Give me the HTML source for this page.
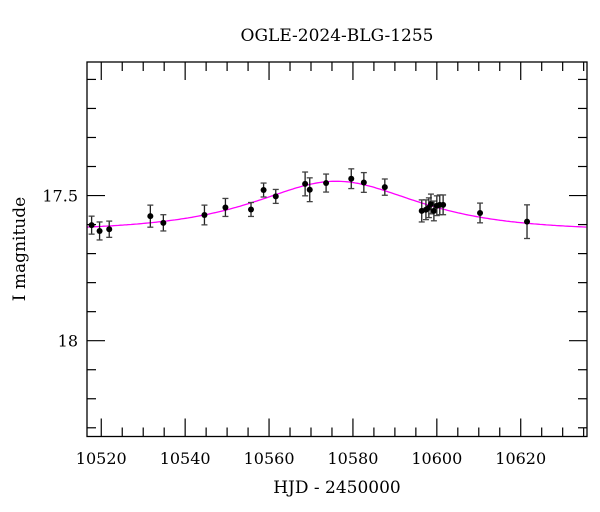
<!DOCTYPE html>
<html><head><meta charset="utf-8"><style>
body{margin:0;background:#fff;}
svg{display:block;font-family:"DejaVu Serif","Liberation Serif",serif;}
</style></head><body>
<svg id="chart" width="600" height="512" viewBox="0 0 600 512" xmlns="http://www.w3.org/2000/svg">
<text x="337" y="41" text-anchor="middle" font-size="17">OGLE-2024-BLG-1255</text>
<text x="337" y="493" text-anchor="middle" font-size="17">HJD - 2450000</text>
<text transform="translate(25,249) rotate(-90)" text-anchor="middle" font-size="17">I magnitude</text>
<g id="ticks"></g>
<g id="model"></g>
<g id="points"></g>
<rect x="87" y="62" width="500" height="374.5" fill="none" stroke="#000" stroke-width="1.3"/>
</svg>
<script>
const days = [10517.7,10519.6,10521.9,10531.7,10534.8,10544.6,10549.6,10555.7,10558.7,10561.6,10568.6,10569.7,10573.6,10579.6,10582.6,10587.6,10596.4,10597.4,10598.1,10598.6,10599.3,10600.0,10600.7,10601.5,10610.3,10621.5];
const mags = [17.602,17.622,17.616,17.571,17.594,17.567,17.541,17.548,17.481,17.503,17.460,17.480,17.457,17.442,17.455,17.471,17.553,17.549,17.542,17.529,17.553,17.535,17.532,17.532,17.560,17.590];
const errs = [0.031,0.031,0.028,0.038,0.028,0.034,0.031,0.024,0.024,0.024,0.041,0.041,0.031,0.034,0.034,0.028,0.038,0.034,0.034,0.034,0.034,0.034,0.034,0.034,0.034,0.058];
const xTickLabels = [10520,10540,10560,10580,10600,10620];
const yTickLabels = [17.5,18];
const modelParams = {t0:10576, tE:24, u0:1.0, fs:0.5, base:17.622};

const NS="http://www.w3.org/2000/svg";
const L=87,R=587,T=62,B=436.5;
const xMin=10516.6,xMax=10635.8,yMin=17.040,yMax=18.330;
function X(d){return L+(d-xMin)/(xMax-xMin)*(R-L);}
function Y(m){return T+(m-yMin)/(yMax-yMin)*(B-T);}
function mk(tag,attrs,parent){const e=document.createElementNS(NS,tag);for(const k in attrs)e.setAttribute(k,attrs[k]);parent.appendChild(e);return e;}

const tg=document.getElementById('ticks');
for(let d=10520;d<=xMax;d+=5){
  const major=(d%20===0);const len=major?18:9;const x=X(d);
  const t1=mk('line',{x1:x,y1:B,x2:x,y2:B-len,stroke:'#000','stroke-width':1.2},tg);
  
  
  const t2=mk('line',{x1:x,y1:T,x2:x,y2:T+len,stroke:'#000','stroke-width':1.2},tg);
  
  
}
xTickLabels.forEach(v=>{
  const t=mk('text',{x:X(v),y:464,'text-anchor':'middle','font-size':16},tg);
  t.textContent=v;
  
  
});
for(let i=1;i<=13;i++){
  const m=17+i*0.1;if(m>yMax)break;
  const major=(i%5===0);const len=major?18:9;const y=Y(m);
  const t1=mk('line',{x1:L,y1:y,x2:L+len,y2:y,stroke:'#000','stroke-width':1.2},tg);
  
  
  const t2=mk('line',{x1:R,y1:y,x2:R-len,y2:y,stroke:'#000','stroke-width':1.2},tg);
  
  
}
yTickLabels.forEach(v=>{
  const t=mk('text',{x:78,y:Y(v)+6,'text-anchor':'end','font-size':16},tg);
  t.textContent=v;
  
  
});

const p=modelParams;let pts=[];
for(let d=xMin;d<=xMax;d+=0.5){
  const tau=(d-p.t0)/p.tE;const u=Math.sqrt(p.u0*p.u0+tau*tau);
  const A=(u*u+2)/(u*Math.sqrt(u*u+4));
  const m=p.base-2.5*Math.log10(p.fs*A+1-p.fs);
  pts.push(X(d).toFixed(1)+','+Y(m).toFixed(1));
}
const mc=mk('polyline',{points:pts.join(' '),fill:'none',stroke:'#ff00ff','stroke-width':1.3},document.getElementById('model'));



const pg=document.getElementById('points');
days.forEach((d,i)=>{
  const x=X(d),y=Y(mags[i]),y1=Y(mags[i]-errs[i]),y2=Y(mags[i]+errs[i]);
  const g=mk('g',{},pg);
  
  
  mk('line',{x1:x,y1:y1,x2:x,y2:y2,stroke:'#222','stroke-width':1.3},g);
  mk('line',{x1:x-3,y1:y1,x2:x+3,y2:y1,stroke:'#444','stroke-width':1.3},g);
  mk('line',{x1:x-3,y1:y2,x2:x+3,y2:y2,stroke:'#444','stroke-width':1.3},g);
  mk('circle',{cx:x,cy:y,r:3,fill:'#000'},g);
});
</script>
</body></html>
